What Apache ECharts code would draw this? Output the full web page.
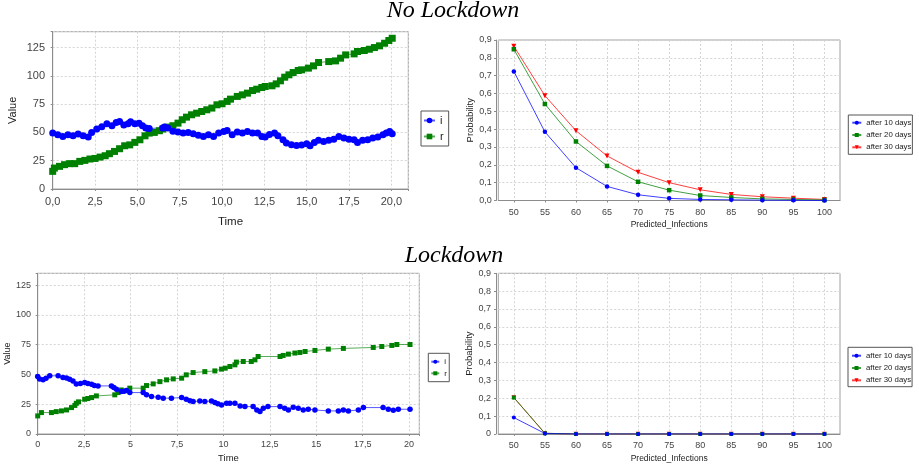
<!DOCTYPE html>
<html><head><meta charset="utf-8">
<script src="https://cdn.jsdelivr.net/npm/echarts@6/dist/echarts.min.js"></script>
<style>html,body{margin:0;padding:0;background:#fff}#c{width:919px;height:468px}</style>
</head><body><div id="c"></div>
<script>
// ---- No Lockdown: time series ----
const noTimeI = [0,0.3,0.6,0.9,1.2,1.5,1.8,2.1,2.3,2.6,2.9,3.2,3.5,3.75,3.95,4.2,4.45,4.6,4.85,5.1,5.3,5.5,5.7,6.5,6.6,6.8,7.1,7.4,7.7,8.0,8.3,8.6,8.9,9.2,9.5,9.8,10.1,10.3,10.6,10.9,11.2,11.5,11.8,12.1,12.35,12.55,12.8,13.1,13.3,13.6,13.8,14.1,14.4,14.7,15.0,15.2,15.45,15.7,16.0,16.3,16.6,16.9,17.2,17.5,17.8,18.0,18.3,18.6,18.9,19.2,19.5,19.7,19.9,20.05];
const noValI  = [49.4,48,46.5,48,47,48.5,47,46,50,53,55,57.6,56,58.8,59.7,56.5,57.6,59.4,57.6,58.2,56,53.8,53.5,54,54.7,53.8,51,50.3,49.4,50,48.8,47.4,46.5,48,46.5,49.4,50.9,51.8,48,50.3,49.4,50.9,49.4,49.4,46.5,45.9,48.2,49.4,47,43.5,40.6,39,38.5,38.8,40,38.2,41.2,43,42,43,44,46.5,45,44,43.5,41.2,43,43.5,45,45.9,48,49.4,50.9,48.8];
const noTimeR = [0,0.1,0.4,0.7,1.0,1.3,1.6,1.9,2.2,2.5,2.8,3.1,3.35,3.65,3.95,4.25,4.55,4.85,5.15,5.45,5.7,6.0,6.3,6.5,6.8,7.1,7.4,7.65,7.9,8.2,8.5,8.8,9.1,9.4,9.7,10.0,10.3,10.5,10.9,11.2,11.5,11.8,12.05,12.35,12.55,12.95,13.2,13.45,13.7,13.95,14.2,14.5,14.7,15.1,15.4,15.7,16.3,16.7,17.0,17.3,17.8,18.0,18.4,18.7,19.0,19.3,19.6,19.85,20.05];
const noValR  = [15.6,18.5,20,21.5,22.4,22.4,24.4,25.3,26.5,27,28.2,29.4,31.2,33.2,35.6,38.2,39,41.2,43.5,47,49.4,50,51.5,53,54.7,55.9,58.2,61.2,63.5,65.6,67,68.5,70,71.5,74.4,75.3,77.4,79.4,81.8,83.2,84.7,87,88.2,89.7,90.6,91.2,92.9,95.6,98.8,100.9,102.9,104.7,105.3,106.8,108.8,111.8,112.6,113.2,115.6,118.5,119.4,121.5,122.4,123.5,125,126.5,128.8,131.2,133.2];

// ---- Lockdown: time series ----
const lkTimeI = [0,0.1,0.29,0.45,0.65,1.1,1.36,1.55,1.72,1.9,2.08,2.3,2.53,2.7,2.9,3.05,3.25,3.97,4.1,4.24,4.5,4.65,4.78,4.96,5.68,5.86,6.13,6.49,6.76,7.2,7.75,8.0,8.2,8.37,8.73,9.0,9.36,9.54,9.7,9.9,10.17,10.35,10.62,10.9,11.16,11.6,11.8,11.97,12.15,12.4,13.05,13.3,13.5,13.76,14.03,14.3,14.57,14.93,15.65,16.19,16.46,16.73,17.27,17.54,18.6,18.88,19.15,19.42,20.05];
const lkValI  = [48.3,46.3,45.5,46.9,48.9,48.9,47.5,47,46,44.5,42,42.5,43.2,42.5,41.8,40.8,40.4,40.4,39,37.6,35.6,36,36.5,34.8,34.8,32.9,31.4,30.9,30.1,30.1,30.6,29.2,28,27.2,27.8,27.2,27.8,26.5,25.5,24.4,25.8,25.8,25.8,23.6,23,23,20.2,18.8,21.6,23,23,21.6,20.2,22.5,21.6,20.2,20.8,20.2,19.4,19.4,20.2,19.4,20.2,22.2,22.2,20.8,19.9,20.8,20.8];
const lkTimeR = [0,0.2,0.74,1.0,1.28,1.55,1.82,2.0,2.08,2.2,2.53,2.7,2.9,3.16,4.15,4.33,4.5,4.96,5.68,5.86,6.22,6.58,6.94,7.3,7.75,8.0,8.37,9.0,9.54,9.9,10.1,10.35,10.62,10.7,11.07,11.5,11.7,11.87,13.05,13.22,13.5,13.85,14.12,14.4,14.93,15.65,16.46,18.07,18.53,19.07,19.34,20.05];
const lkValR  = [15.2,18,18,18.8,19.4,20.2,22.2,24,25.8,27,29.2,29.8,30.6,32,32.9,34.8,37,38.5,38.5,40.7,42.1,44,45.5,46.3,46.9,49.7,51.6,52.4,53,54.5,55.3,56.7,58.1,60.4,60.9,60.9,62.3,65.1,65.1,66,67.1,68,68.5,69.3,70.2,71.3,71.9,72.7,73.5,74.4,75.2,75.2];

// ---- Probability distributions ----
const infCats = ['50','55','60','65','70','75','80','85','90','95','100'];
const noP10 = [0.724,0.385,0.184,0.079,0.032,0.012,0.006,0.004,0.002,0.001,0.0];
const noP20 = [0.848,0.541,0.331,0.194,0.105,0.058,0.028,0.017,0.009,0.006,0.003];
const noP30 = [0.865,0.588,0.391,0.25,0.158,0.1,0.06,0.034,0.021,0.013,0.006];
const lkP10 = [0.092,0.003,0,0,0,0,0,0,0,0,0];
const lkP20 = [0.204,0.004,0,0,0,0,0,0,0,0,0];
const lkP30 = [0.204,0.004,0,0,0,0,0,0,0,0,0];

const seriesNames = ['after 10 days','after 20 days','after 30 days'];

const BLUE='#0000ff', GREEN='#008000', RED='#ff0000';
const FONT='Liberation Sans';
const pairs=(ts,vs)=>ts.map((t,k)=>[t,vs[k]]);
const isMult=(v,s)=>Math.abs(v/s-Math.round(v/s))<1e-6;

const gridLine={show:true,lineStyle:{color:'#d4d4d4',type:[2,2],width:1}};
const axLine={show:true,lineStyle:{color:'#8c8c8c',width:1}};
const axTick={show:true,length:2,lineStyle:{color:'#8c8c8c'}};

function valueX(gi,max,fs,margin,gap,fmt,offset){
  return {type:'value',gridIndex:gi,min:0,max:max,interval:2.5,offset:offset,
    name:'Time',nameLocation:'middle',nameGap:gap,
    nameTextStyle:{fontFamily:FONT,fontSize:fs+0.5,color:'#222'},
    axisLine:axLine,axisTick:axTick,splitLine:gridLine,
    axisLabel:{fontFamily:FONT,fontSize:fs,color:'#444',margin:margin,
      formatter:v=>isMult(v,2.5)?fmt(v):''}};
}
function valueY(gi,max,fs,margin,gap,offset){
  return {type:'value',gridIndex:gi,min:0,max:max,interval:25,offset:offset,
    name:'Value',nameLocation:'middle',nameGap:gap,
    nameTextStyle:{fontFamily:FONT,fontSize:fs,color:'#222'},
    axisLine:axLine,axisTick:axTick,splitLine:gridLine,
    axisLabel:{fontFamily:FONT,fontSize:fs,color:'#444',margin:margin,
      formatter:v=>isMult(v,25)?String(v):''}};
}
function catX(gi,fs,margin,gap,offset){
  return {type:'category',gridIndex:gi,data:infCats,boundaryGap:true,offset:offset,
    name:'Predicted_Infections',nameLocation:'middle',nameGap:gap,
    nameTextStyle:{fontFamily:FONT,fontSize:fs-0.5,color:'#222'},
    axisLine:axLine,axisTick:{show:true,length:2,alignWithLabel:true,interval:0,lineStyle:{color:'#8c8c8c'}},
    splitLine:{show:true,alignWithLabel:true,interval:0,lineStyle:{color:'#d4d4d4',type:[2,2],width:1}},
    axisLabel:{fontFamily:FONT,fontSize:fs,color:'#444',margin:margin,interval:0}};
}
function probY(gi,fs,margin,gap,offset,zeroPlain){
  return {type:'value',gridIndex:gi,min:0,max:0.9,interval:0.1,offset:offset,
    name:'Probability',nameLocation:'middle',nameGap:gap,
    nameTextStyle:{fontFamily:FONT,fontSize:fs+0.5,color:'#222'},
    axisLine:axLine,axisTick:axTick,splitLine:gridLine,
    axisLabel:{fontFamily:FONT,fontSize:fs,color:'#444',margin:margin,
      formatter:v=>(zeroPlain&&Math.abs(v)<1e-9)?'0':v.toFixed(1).replace('.',',')}};
}
function tsSeries(name,xi,data,color,sym,size){
  return {type:'line',name:name,xAxisIndex:xi,yAxisIndex:xi,data:data,
    symbol:sym,symbolSize:size,showSymbol:true,showAllSymbol:true,
    itemStyle:{color:color},lineStyle:{color:color,width:1,opacity:0.65},
    emphasis:{disabled:true},z:2};
}
function probSeries(name,xi,data,color,sym,size,rot){
  return {type:'line',name:name,xAxisIndex:xi,yAxisIndex:xi,data:data,
    symbol:sym,symbolSize:size,symbolRotate:rot||0,showSymbol:true,
    itemStyle:{color:color},lineStyle:{color:color,width:1,opacity:0.75},
    emphasis:{disabled:true},z:2};
}
function legend(left,top,names,fs,iw,ih,gap,pad){
  return {left:left,top:top,orient:'vertical',data:names,itemWidth:iw,itemHeight:ih,itemGap:gap,
    padding:pad,borderColor:'#555',borderWidth:1,backgroundColor:'#fff',selectedMode:false,
    textStyle:{fontFamily:FONT,fontSize:fs,color:'#222',lineHeight:fs}};
}

const fmt1=v=>v.toFixed(1).replace('.',',');
const fmt2=v=>String(v).replace('.',',');

const option={
  animation:false,
  backgroundColor:'#fff',
  title:[
    {text:'No Lockdown',left:453,top:-1,textAlign:'center',padding:0,
     textStyle:{fontFamily:'Liberation Serif',fontStyle:'italic',fontWeight:'normal',fontSize:24,color:'#000'}},
    {text:'Lockdown',left:454,top:244,textAlign:'center',padding:0,
     textStyle:{fontFamily:'Liberation Serif',fontStyle:'italic',fontWeight:'normal',fontSize:24,color:'#000'}}
  ],
  grid:[
    {left:52.7,top:31.7,width:355.6,height:157.3,show:true,borderColor:'#a0a0a0',borderWidth:1,backgroundColor:'#fff'},
    {left:498.3,top:40,width:341.7,height:160.5,show:true,borderColor:'#a0a0a0',borderWidth:1,backgroundColor:'#fff'},
    {left:37.7,top:273.3,width:381.6,height:160.7,show:true,borderColor:'#a0a0a0',borderWidth:1,backgroundColor:'#fff'},
    {left:498.3,top:273.3,width:341.7,height:160.7,show:true,borderColor:'#a0a0a0',borderWidth:1,backgroundColor:'#fff'}
  ],
  xAxis:[
    valueX(0,21,11,4,23,fmt1,3.5),
    catX(1,9,4.5,16.4,3),
    valueX(2,20.55,9,3.2,16.5,fmt2,3.3),
    catX(3,9,4,16.7,3.3)
  ],
  yAxis:[
    valueY(0,139,11,5,32,2.7),
    probY(1,9,4.3,20.3,2.3,false),
    valueY(2,135,9,4,22,2.7),
    probY(3,9,5,20,2.3,true)
  ],
  legend:[
    legend(421,111,['i','r'],11,11,7,5,[4,5,4,2]),
    legend(848.3,115,seriesNames,7.8,9,5,4.3,[3.7,1,3,3]),
    legend(428.3,353.3,['i','r'],8,8,5,3.6,[4.4,2.3,4.4,2]),
    legend(848,347.3,seriesNames,7.8,9,5,4.3,[4.4,1,2.4,3])
  ],
  series:[
    tsSeries('r',0,pairs(noTimeR,noValR),GREEN,'rect',7),
    tsSeries('i',0,pairs(noTimeI,noValI),BLUE,'circle',7),
    probSeries(seriesNames[2],1,noP30,RED,'triangle',5,180),
    probSeries(seriesNames[1],1,noP20,GREEN,'rect',4.5),
    probSeries(seriesNames[0],1,noP10,BLUE,'circle',4.5),
    tsSeries('r',2,pairs(lkTimeR,lkValR),GREEN,'rect',5),
    tsSeries('i',2,pairs(lkTimeI,lkValI),BLUE,'circle',5.5),
    probSeries(seriesNames[2],3,lkP30,RED,'triangle',4.5,180),
    probSeries(seriesNames[1],3,lkP20,GREEN,'rect',4),
    probSeries(seriesNames[0],3,lkP10,BLUE,'circle',4)
  ]
};
const chart=echarts.init(document.getElementById('c'),null,{renderer:'canvas'});
chart.setOption(option);
</script>
</body></html>
